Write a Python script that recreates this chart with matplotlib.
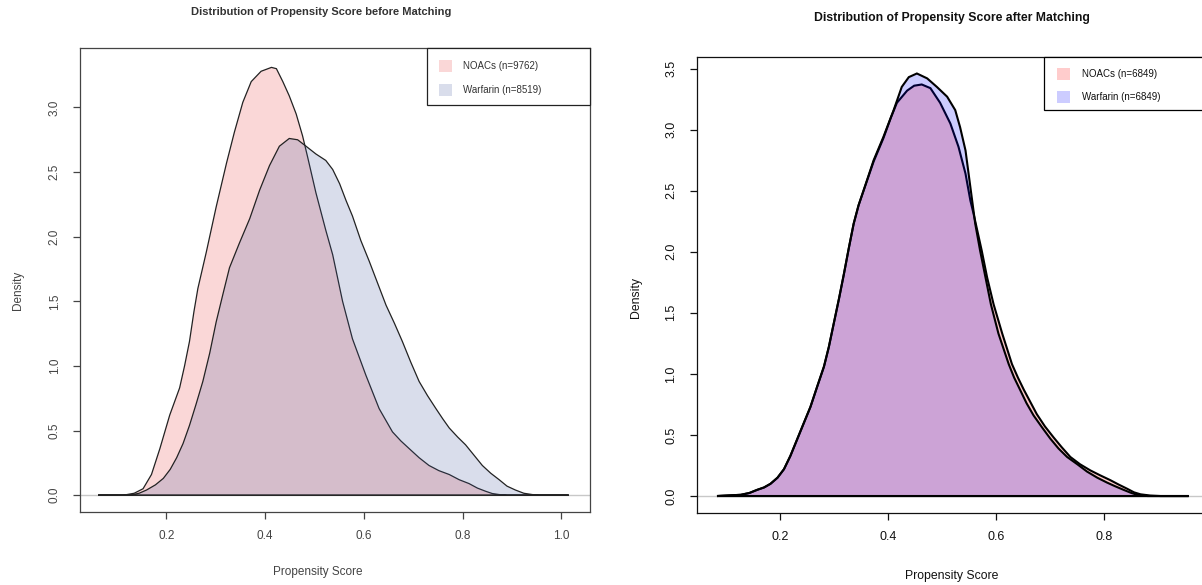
import numpy as np
import matplotlib
matplotlib.use("Agg")
import matplotlib.pyplot as plt
from matplotlib.patches import Rectangle

plt.rcParams['font.family'] = ['Liberation Sans', 'DejaVu Sans']

# ---- before matching (left panel) ----
before_noac_x = [0.062, 0.113, 0.135, 0.153, 0.170, 0.187, 0.207, 0.227, 0.237, 0.247,
                 0.256, 0.264, 0.281, 0.301, 0.322, 0.338, 0.355, 0.372, 0.392, 0.413,
                 0.423, 0.436, 0.449, 0.463, 0.476, 0.486, 0.503, 0.523, 0.537, 0.557,
                 0.577, 0.604, 0.631, 0.658, 0.675, 0.692, 0.712, 0.732, 0.752, 0.773,
                 0.793, 0.813, 0.830, 0.847, 0.860, 0.874, 0.890, 1.015]
before_noac_d = [0.0, 0.0, 0.015, 0.05, 0.16, 0.36, 0.62, 0.83, 1.00, 1.19,
                 1.42, 1.60, 1.88, 2.23, 2.57, 2.81, 3.04, 3.20, 3.28, 3.31,
                 3.30, 3.20, 3.09, 2.95, 2.78, 2.62, 2.34, 2.05, 1.86, 1.50,
                 1.21, 0.93, 0.67, 0.49, 0.42, 0.36, 0.29, 0.23, 0.19, 0.16,
                 0.12, 0.09, 0.055, 0.03, 0.013, 0.005, 0.0, 0.0]

before_warf_x = [0.062, 0.126, 0.145, 0.160, 0.178, 0.194, 0.208, 0.221, 0.234, 0.247,
                 0.260, 0.274, 0.288, 0.301, 0.315, 0.328, 0.348, 0.369, 0.389, 0.409,
                 0.429, 0.449, 0.466, 0.483, 0.503, 0.523, 0.537, 0.551, 0.564, 0.577,
                 0.594, 0.611, 0.628, 0.645, 0.662, 0.678, 0.695, 0.712, 0.729, 0.746,
                 0.760, 0.773, 0.790, 0.806, 0.823, 0.840, 0.857, 0.874, 0.890, 0.907,
                 0.924, 0.941, 0.955, 1.015]
before_warf_d = [0.0, 0.0, 0.015, 0.04, 0.08, 0.13, 0.20, 0.29, 0.40, 0.54,
                 0.70, 0.88, 1.10, 1.34, 1.56, 1.76, 1.95, 2.14, 2.36, 2.55,
                 2.70, 2.76, 2.75, 2.70, 2.64, 2.59, 2.52, 2.41, 2.28, 2.16,
                 1.97, 1.81, 1.64, 1.47, 1.33, 1.19, 1.03, 0.88, 0.77, 0.67,
                 0.59, 0.52, 0.45, 0.39, 0.31, 0.23, 0.17, 0.12, 0.07, 0.04,
                 0.015, 0.005, 0.0, 0.0]

# ---- after matching (right panel) ----
after_noac_x = [0.083, 0.127, 0.143, 0.157, 0.170, 0.182, 0.195, 0.207, 0.219, 0.231,
                0.243, 0.256, 0.268, 0.281, 0.290, 0.299, 0.309, 0.318, 0.327, 0.336,
                0.345, 0.355, 0.373, 0.391, 0.405, 0.416, 0.435, 0.448, 0.462, 0.478,
                0.496, 0.515, 0.530, 0.543, 0.552, 0.558, 0.573, 0.583, 0.595, 0.611,
                0.629, 0.640, 0.651, 0.663, 0.675, 0.690, 0.706, 0.721, 0.737, 0.755,
                0.774, 0.792, 0.811, 0.826, 0.842, 0.855, 0.867, 0.885, 0.904, 0.956]
after_noac_d = [0.0, 0.01, 0.025, 0.05, 0.07, 0.10, 0.15, 0.22, 0.33, 0.46,
                0.59, 0.73, 0.89, 1.06, 1.22, 1.41, 1.62, 1.82, 2.03, 2.23,
                2.38, 2.51, 2.74, 2.93, 3.10, 3.22, 3.32, 3.36, 3.37, 3.34,
                3.22, 3.05, 2.86, 2.64, 2.42, 2.31, 2.01, 1.79, 1.57, 1.33,
                1.08, 0.97, 0.87, 0.77, 0.67, 0.57, 0.48, 0.40, 0.32, 0.26,
                0.21, 0.17, 0.13, 0.095, 0.06, 0.03, 0.014, 0.004, 0.0, 0.0]

after_warf_x = [0.083, 0.127, 0.143, 0.157, 0.170, 0.182, 0.195, 0.207, 0.219, 0.231,
                0.243, 0.256, 0.268, 0.281, 0.290, 0.299, 0.309, 0.318, 0.327, 0.336,
                0.345, 0.355, 0.373, 0.391, 0.410, 0.425, 0.438, 0.453, 0.472, 0.490,
                0.509, 0.524, 0.533, 0.543, 0.552, 0.561, 0.570, 0.580, 0.590, 0.604,
                0.623, 0.633, 0.644, 0.656, 0.669, 0.685, 0.700, 0.715, 0.731, 0.750,
                0.768, 0.787, 0.805, 0.820, 0.836, 0.850, 0.861, 0.880, 0.956]
after_warf_d = [0.0, 0.01, 0.025, 0.05, 0.07, 0.10, 0.15, 0.22, 0.33, 0.46,
                0.59, 0.73, 0.89, 1.06, 1.22, 1.41, 1.62, 1.82, 2.03, 2.23,
                2.38, 2.51, 2.75, 2.94, 3.16, 3.35, 3.43, 3.46, 3.42, 3.35,
                3.27, 3.16, 3.02, 2.83, 2.53, 2.23, 2.01, 1.79, 1.57, 1.33,
                1.08, 0.97, 0.87, 0.76, 0.66, 0.56, 0.47, 0.39, 0.32, 0.26,
                0.20, 0.15, 0.11, 0.08, 0.05, 0.025, 0.01, 0.0, 0.0]

before_labels = ["NOACs (n=9762)", "Warfarin (n=8519)"]
after_labels = ["NOACs (n=6849)", "Warfarin (n=6849)"]
x_ticks_before = [0.2, 0.4, 0.6, 0.8, 1.0]
x_ticks_after = [0.2, 0.4, 0.6, 0.8]
y_ticks_before = [0.0, 0.5, 1.0, 1.5, 2.0, 2.5, 3.0]
y_ticks_after = [0.0, 0.5, 1.0, 1.5, 2.0, 2.5, 3.0, 3.5]

W, H = 1202, 585
fig = plt.figure(figsize=(W / 100, H / 100), dpi=100)

def px_axes(l, t, r, b):
    return fig.add_axes([l / W, 1 - b / H, (r - l) / W, (b - t) / H])

ax1 = px_axes(80, 48, 590, 512)
ax2 = px_axes(697, 57, 1207, 513)


def style(ax, xt, yt, fg, size):
    ax.set_xticks(xt)
    ax.set_xticklabels(["%.1f" % v for v in xt])
    ax.set_yticks(yt)
    ax.set_yticklabels(["%.1f" % v for v in yt], rotation=90, va='center')
    ax.tick_params(direction='out', length=5, width=0.9, colors=fg, labelsize=size)
    ax.tick_params(axis='x', pad=8)
    ax.tick_params(axis='y', pad=9)
    for s in ax.spines.values():
        s.set_color(fg)
        s.set_linewidth(0.9)


def box_legend(l, t, r, b, colors, labels, edge, fg, sw_x, txt_x, rows):
    # legend box drawn in figure pixels, like R's legend()
    fig.add_artist(Rectangle((l / W, 1 - b / H), (r - l) / W, (b - t) / H,
                             transform=fig.transFigure, facecolor='white',
                             edgecolor=edge, lw=0.9, zorder=5))
    for c, lab, yc in zip(colors, labels, rows):
        fig.add_artist(Rectangle((sw_x / W, 1 - (yc + 5.5) / H), 13 / W, 11 / H,
                                 transform=fig.transFigure, facecolor=c,
                                 edgecolor='none', zorder=6))
        fig.text(txt_x / W, 1 - yc / H, lab, ha='left', va='center',
                 fontsize=7, color=fg, zorder=7)


# left panel
ax1.axhline(0, color='#c8c8c8', lw=1.0, zorder=0)
noac_c1 = (0.90, 0.22, 0.22, 0.2)
warf_c1 = (0.27, 0.35, 0.61, 0.2)
ax1.fill(before_noac_x, before_noac_d, facecolor=noac_c1, edgecolor='#222222', lw=0.9)
ax1.fill(before_warf_x, before_warf_d, facecolor=warf_c1, edgecolor='#222222', lw=0.9)
ax1.set_xlim(0.0253, 1.058)
ax1.set_ylim(-0.13, 3.46)
style(ax1, x_ticks_before, y_ticks_before, '#444444', 8.5)
box_legend(427, 48, 590, 105, [noac_c1, warf_c1], before_labels, '#222222', '#333333',
           439, 463, [66, 90])

# right panel
ax2.axhline(0, color='#c8c8c8', lw=1.0, zorder=0)
noac_c2 = (1.0, 0.0, 0.0, 0.2)
warf_c2 = (0.0, 0.0, 1.0, 0.2)
ax2.fill(after_noac_x, after_noac_d, facecolor=noac_c2, edgecolor='black', lw=1.5)
ax2.fill(after_warf_x, after_warf_d, facecolor=warf_c2, edgecolor='black', lw=1.5)
ax2.set_xlim(0.046, 0.99)
ax2.set_ylim(-0.139, 3.595)
style(ax2, x_ticks_after, y_ticks_after, '#111111', 9)
box_legend(1044, 57, 1207, 110, [noac_c2, warf_c2], after_labels, 'black', '#111111',
           1057, 1082, [74, 97])

# titles and axis labels
fig.text(321 / W, 1 - 12 / H, "Distribution of Propensity Score before Matching",
         ha='center', va='center', fontsize=8, fontweight='bold', color='#333333')
fig.text(952 / W, 1 - 18 / H, "Distribution of Propensity Score after Matching",
         ha='center', va='center', fontsize=8.8, fontweight='bold', color='#111111')
fig.text(18 / W, 1 - 290 / H, "Density", rotation=90, ha='center', va='center',
         fontsize=8.5, color='#444444')
fig.text(636 / W, 1 - 298 / H, "Density", rotation=90, ha='center', va='center',
         fontsize=8.8, color='#111111')
fig.text(318 / W, 1 - 572 / H, "Propensity Score", ha='center', va='center',
         fontsize=8.5, color='#444444')
fig.text(952 / W, 1 - 576 / H, "Propensity Score", ha='center', va='center',
         fontsize=8.8, color='#111111')

fig.savefig("out.png", dpi=100)
